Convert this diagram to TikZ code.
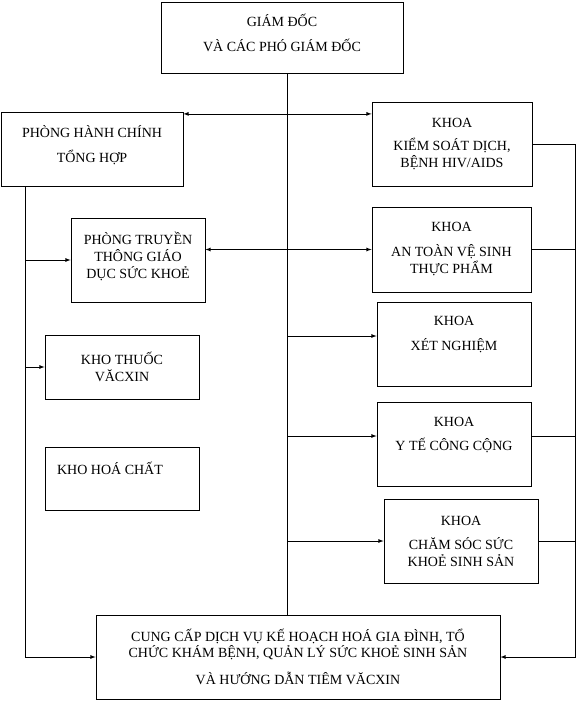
\documentclass[tikz,border=0pt]{standalone}
\usepackage{fontspec}
\setmainfont{Liberation Serif}
\usetikzlibrary{arrows}
\tikzstyle{unit} = [rectangle, draw=black, text centered, align=center,
    inner sep=2pt, font=\fontsize{14}{17}\selectfont]
\tikzstyle{arrow} = [->,>=latex]
\tikzstyle{twoway} = [<->,>=latex]

\begin{document}
\begin{tikzpicture}[x=1pt, y=-1pt, line width=0.8pt]
            \useasboundingbox (0,0) rectangle (577,701);
            % Boxes
            \node[unit, minimum width=242pt, minimum height=71pt] (gd) at (282,37.5)
            {GIÁM ĐỐC\\[8pt]VÀ CÁC PHÓ GIÁM ĐỐC\\[-7pt]\mbox{}};
            \node[unit, minimum width=182pt, minimum height=74pt] (phc) at (92,149)
            {PHÒNG HÀNH CHÍNH\\[8pt]TỔNG HỢP\\[-7pt]\mbox{}};
            \node[unit, minimum width=160pt, minimum height=84pt] (ks) at (452,144)
            {KHOA\\[6pt]KIỂM SOÁT DỊCH,\\BỆNH HIV/AIDS};
            \node[unit, minimum width=134pt, minimum height=84pt] (pt) at (138,260)
            {PHÒNG TRUYỀN\\THÔNG GIÁO\\DỤC SỨC KHOẺ\\[-7pt]\mbox{}};
            \node[unit, minimum width=159pt, minimum height=85pt] (at) at (451.5,249.5)
            {KHOA\\[8pt]AN TOÀN VỆ SINH\\THỰC PHẨM};
            \node[unit, minimum width=154pt, minimum height=84pt] (xn) at (454,344)
            {KHOA\\[8pt]XÉT NGHIỆM\\[4pt]\mbox{}};
            \node[unit, minimum width=154pt, minimum height=64pt] (kt) at (122,367)
            {KHO THUỐC\\VĂCXIN};
            \node[unit, minimum width=154pt, minimum height=84pt] (yt) at (454,444)
            {KHOA\\[7pt]Y TẾ CÔNG CỘNG\\[4pt]\mbox{}};
            \node[unit, minimum width=154pt, minimum height=63pt] (khc) at (122,478.5)
            {KHO HOÁ CHẤT\hspace*{24pt}\\[4pt]\mbox{}};
            \node[unit, minimum width=154pt, minimum height=84pt] (cs) at (461,541)
            {KHOA\\[7pt]CHĂM SÓC SỨC\\KHOẺ SINH SẢN};
            \node[unit, minimum width=404pt, minimum height=84pt] (cc) at (298,657)
            {CUNG CẤP DỊCH VỤ KẾ HOẠCH HOÁ GIA ĐÌNH, TỔ\\[-1pt]CHỨC KHÁM BỆNH, QUẢN LÝ SỨC KHOẺ SINH SẢN\\[10pt]VÀ HƯỚNG DẪN TIÊM VĂCXIN};
            % Rails
            \coordinate (spine) at (287,73);
            \coordinate (lrail) at (25,0);
            \coordinate (rrail) at (575,0);
            \coordinate (xnin) at ([yshift=8pt]xn.west);
            \coordinate (ytin) at ([yshift=8pt]yt.west);
            \coordinate (ytout) at ([yshift=8pt]yt.east);
            % Arrows
            \draw (spine) -- (spine |- cc.north);
            \draw[twoway] (phc.21) -- (phc.21 -| ks.west);
            \draw[twoway] (pt.east |- at.west) -- (at.west);
            \draw[arrow] (spine |- xnin) -- (xnin);
            \draw[arrow] (spine |- ytin) -- (ytin);
            \draw[arrow] (spine |- cs.west) -- (cs.west);
            \draw (ks.east) -- (ks.east -| rrail);
            \draw (at.east) -- (at.east -| rrail);
            \draw (ytout) -- (ytout -| rrail);
            \draw (cs.east) -- (cs.east -| rrail);
            \draw[arrow] (ks.east -| rrail) |- (cc.east);
            \draw[arrow] (lrail |- phc.south) |- (cc.west);
            \draw[arrow] (lrail |- pt.west) -- (pt.west);
            \draw[arrow] (lrail |- kt.west) -- (kt.west);
        \end{tikzpicture}
\end{document}
